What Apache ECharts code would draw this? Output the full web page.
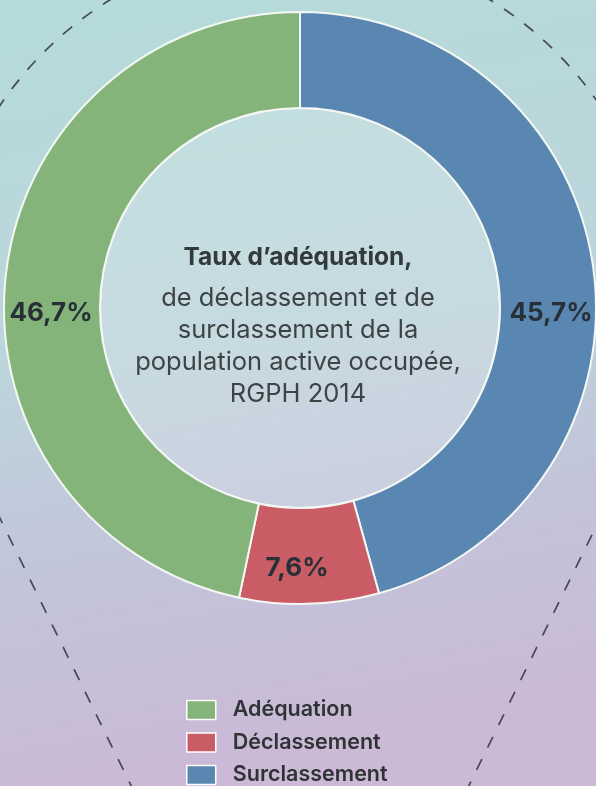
<!DOCTYPE html>
<html><head><meta charset="utf-8">
<script src="https://cdn.jsdelivr.net/npm/echarts@6/dist/echarts.min.js"></script>
<style>html,body{margin:0;padding:0;}#c{width:596px;height:786px;}</style>
</head><body><div id="c"></div>
<script>
const categories = ['Surclassement', 'Déclassement', 'Adéquation'];
const values = [45.7, 7.6, 46.7];
const colors = ['#5a87b1', '#c95c64', '#85b47a'];
const legendOrder = ['Adéquation', 'Déclassement', 'Surclassement'];
const titleMain = 'Taux d’adéquation,';
const titleSub = 'de déclassement et de\nsurclassement de la\npopulation active occupée,\nRGPH 2014';

const cx = 300, cy = 308, rIn = 200, rOut = 296;
const FONT = 'Inter, sans-serif';

// dashed pin outline (decoration)
const R = 362, tipY = 1130;
const a = Math.asin(R / (tipY - cy));
const tx = R * Math.cos(a), ty = R * Math.sin(a);
const dashStyle = {fill: 'none', stroke: '#454a50', lineWidth: 1.7, lineDash: [12, 13]};

const chart = echarts.init(document.getElementById('c'), null, {renderer: 'canvas'});
chart.setOption({
  backgroundColor: {
    type: 'linear', x: 0, y: 0, x2: 0.25, y2: 1,
    colorStops: [
      {offset: 0, color: '#b5dbda'},
      {offset: 0.45, color: '#bcd5dc'},
      {offset: 0.75, color: '#c3c3da'},
      {offset: 1, color: '#cbb9d6'}
    ]
  },
  graphic: [
    {type: 'arc', silent: true, z: 0,
     shape: {cx: cx, cy: cy, r: R, startAngle: Math.PI - a, endAngle: 2 * Math.PI + a, clockwise: true},
     style: dashStyle},
    {type: 'line', silent: true, z: 0,
     shape: {x1: cx - tx, y1: cy + ty, x2: cx, y2: tipY}, style: dashStyle},
    {type: 'line', silent: true, z: 0,
     shape: {x1: cx + tx, y1: cy + ty, x2: cx, y2: tipY}, style: dashStyle},
    {type: 'circle', silent: true, z: 0, shape: {cx: cx, cy: cy, r: rIn},
     style: {fill: 'rgba(255,255,255,0.16)', stroke: 'rgba(255,255,255,0.9)', lineWidth: 2}}
  ],
  title: {
    text: titleMain, subtext: titleSub,
    left: 'center', top: 243, itemGap: 9, padding: 0,
    textStyle: {fontFamily: FONT, fontSize: 24.5, fontWeight: 'bold', color: '#333a3c', lineHeight: 30},
    subtextStyle: {fontFamily: FONT, fontSize: 25.5, color: '#3e4446', lineHeight: 32, align: 'center'}
  },
  legend: {
    data: legendOrder, orient: 'vertical', left: 186, top: 699, height: 140, padding: 0,
    itemWidth: 29, itemHeight: 19, itemGap: 10.5,
    icon: 'rect',
    itemStyle: {borderColor: '#ffffff', borderWidth: 1.5},
    textStyle: {fontFamily: FONT, fontSize: 21.5, fontWeight: 600, color: '#2f3336', lineHeight: 20, padding: [0, 0, 0, 12]}
  },
  series: [{
    type: 'pie', radius: [rIn, rOut], center: [cx, cy],
    startAngle: 90, clockwise: true, silent: true,
    itemStyle: {borderColor: '#f4f7f4', borderWidth: 2},
    label: {
      show: true, position: 'inside',
      formatter: p => p.value.toFixed(1).replace('.', ',') + '%',
      fontFamily: FONT, fontSize: 26, fontWeight: 'bold', color: '#263036'
    },
    labelLayout: p => {
      if (p.dataIndex === 0) return {x: 551, y: 313, align: 'center', verticalAlign: 'middle'};
      if (p.dataIndex === 2) return {x: 51, y: 313, align: 'center', verticalAlign: 'middle'};
      return {x: 297, y: 568, align: 'center', verticalAlign: 'middle'};
    },
    data: categories.map((c, i) => ({name: c, value: values[i], itemStyle: {color: colors[i]}}))
  }]
});
</script></body></html>
